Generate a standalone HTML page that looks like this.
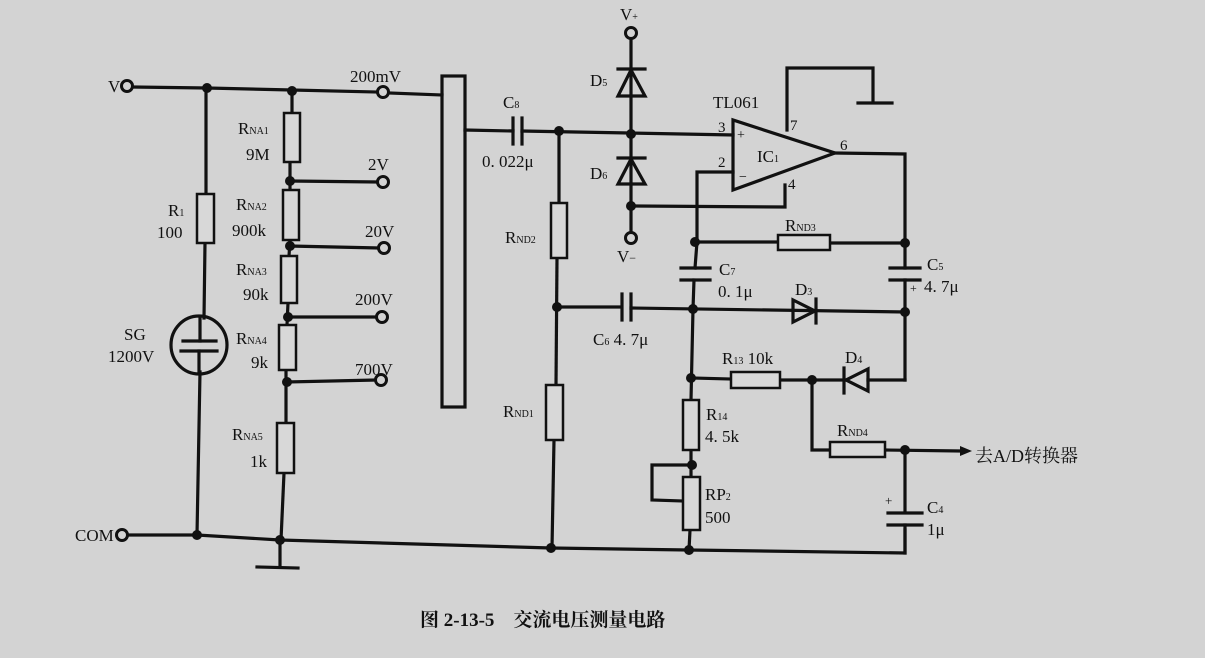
<!DOCTYPE html>
<html><head><meta charset="utf-8"><style>
html,body{margin:0;padding:0;background:#d3d3d3;}
svg{display:block}
text{font-family:"Liberation Serif","Noto Serif CJK SC",serif;fill:#111;}
</style></head><body>
<svg width="1205" height="658" viewBox="0 0 1205 658" xmlns="http://www.w3.org/2000/svg">
<rect width="1205" height="658" fill="#d3d3d3"/>
<g stroke="#111" stroke-width="3.2" fill="none" stroke-linecap="square">
<polyline points="133,87 207,88 292,90 377,92"/>
<line x1="389" y1="93" x2="442" y2="95"/>
<line x1="206" y1="88" x2="206" y2="195"/>
<line x1="205" y1="243" x2="204" y2="318"/>
<line x1="200" y1="372" x2="197" y2="535"/>
<ellipse cx="199" cy="345" rx="28" ry="29"/>
<line x1="200" y1="318" x2="200" y2="341"/>
<line x1="183" y1="341" x2="216" y2="341"/>
<line x1="181" y1="351" x2="217" y2="351"/>
<line x1="199" y1="351" x2="199" y2="372"/>
<line x1="292" y1="90" x2="292" y2="113"/>
<line x1="290" y1="162" x2="290" y2="190"/>
<line x1="290" y1="240" x2="289" y2="256"/>
<line x1="288" y1="303" x2="287" y2="325"/>
<line x1="286" y1="370" x2="286" y2="423"/>
<line x1="284" y1="473" x2="281" y2="540"/>
<line x1="290" y1="181" x2="377" y2="182"/>
<line x1="290" y1="246" x2="378" y2="248"/>
<line x1="288" y1="317" x2="376" y2="317"/>
<line x1="287" y1="382" x2="375" y2="380"/>
<line x1="280" y1="540" x2="280" y2="566"/>
<line x1="257" y1="567" x2="298" y2="568"/>
<polyline points="128,535 197,535 280,540 551,548 689,550 905,553 905,530"/>
<rect x="442" y="76" width="23" height="331"/>
<line x1="465" y1="130" x2="513" y2="131"/>
<line x1="513" y1="118" x2="513" y2="144"/>
<line x1="522" y1="118" x2="522" y2="144"/>
<line x1="522" y1="131" x2="733" y2="135"/>
<line x1="559" y1="131" x2="559" y2="203"/>
<line x1="557" y1="258" x2="556" y2="385"/>
<line x1="554" y1="440" x2="552" y2="548"/>
<line x1="556" y1="307" x2="621" y2="307"/>
<line x1="622" y1="294" x2="622" y2="320"/>
<line x1="631" y1="294" x2="631" y2="320"/>
<line x1="631" y1="308" x2="905" y2="312"/>
<line x1="631" y1="39" x2="631" y2="238"/>
<line x1="618" y1="69" x2="645" y2="69"/>
<polygon points="618,96 645,96 631,70"/>
<line x1="618" y1="158" x2="645" y2="158"/>
<polygon points="618,184 645,184 631,159"/>
<polyline points="631,206 785,207 785,185"/>
<polygon points="733,120 733,190 835,153"/>
<polyline points="787,130 787,68 873,68 873,102"/>
<line x1="858" y1="103" x2="892" y2="103"/>
<polyline points="733,172 697,172 697,242 695,268"/>
<line x1="681" y1="268" x2="710" y2="268"/>
<line x1="681" y1="280" x2="710" y2="280"/>
<polyline points="694,280 693,309 691,400"/>
<line x1="691" y1="450" x2="691" y2="477"/>
<line x1="690" y1="530" x2="689" y2="550"/>
<polyline points="835,153 905,154 905,268"/>
<line x1="697" y1="242" x2="778" y2="242"/>
<line x1="830" y1="243" x2="905" y2="243"/>
<line x1="890" y1="268" x2="920" y2="268"/>
<line x1="890" y1="280" x2="920" y2="280"/>
<line x1="905" y1="280" x2="905" y2="380"/>
<polygon points="793,300 793,322 815,311"/>
<line x1="816" y1="299" x2="816" y2="323"/>
<line x1="691" y1="378" x2="731" y2="379"/>
<line x1="780" y1="380" x2="845" y2="380"/>
<polygon points="868,369 868,391 846,380"/>
<line x1="844" y1="368" x2="844" y2="393"/>
<line x1="868" y1="380" x2="905" y2="380"/>
<polyline points="812,380 812,450 830,450"/>
<line x1="885" y1="450" x2="960" y2="451"/>
<line x1="905" y1="450" x2="905" y2="512"/>
<line x1="888" y1="513" x2="922" y2="513"/>
<line x1="888" y1="525" x2="922" y2="525"/>
<line x1="905" y1="525" x2="905" y2="553"/>
<polyline points="691,465 652,465 652,500 683,501"/>
</g>
<g stroke="#111" stroke-width="2.5" fill="#d8d8d8">
<rect x="197" y="194" width="17" height="49"/>
<rect x="284" y="113" width="16" height="49"/>
<rect x="283" y="190" width="16" height="50"/>
<rect x="281" y="256" width="16" height="47"/>
<rect x="279" y="325" width="17" height="45"/>
<rect x="277" y="423" width="17" height="50"/>
<rect x="551" y="203" width="16" height="55"/>
<rect x="546" y="385" width="17" height="55"/>
<rect x="778" y="235" width="52" height="15"/>
<rect x="731" y="372" width="49" height="16"/>
<rect x="683" y="400" width="16" height="50"/>
<rect x="683" y="477" width="17" height="53"/>
<rect x="830" y="442" width="55" height="15"/>
</g>
<g stroke="#111" stroke-width="3" fill="#d3d3d3">
<circle cx="127" cy="86" r="5.5"/>
<circle cx="383" cy="92" r="5.5"/>
<circle cx="383" cy="182" r="5.5"/>
<circle cx="384" cy="248" r="5.5"/>
<circle cx="382" cy="317" r="5.5"/>
<circle cx="381" cy="380" r="5.5"/>
<circle cx="122" cy="535" r="5.5"/>
<circle cx="631" cy="33" r="5.5"/>
<circle cx="631" cy="238" r="5.5"/>
</g>
<polygon points="960,446 972,451 960,456" fill="#111"/>
<g fill="#111">
<circle cx="207" cy="88" r="5"/><circle cx="292" cy="91" r="5"/>
<circle cx="290" cy="181" r="5"/><circle cx="290" cy="246" r="5"/>
<circle cx="288" cy="317" r="5"/><circle cx="287" cy="382" r="5"/>
<circle cx="197" cy="535" r="5"/><circle cx="280" cy="540" r="5"/>
<circle cx="559" cy="131" r="5"/><circle cx="631" cy="134" r="5"/>
<circle cx="631" cy="206" r="5"/><circle cx="557" cy="307" r="5"/>
<circle cx="551" cy="548" r="5"/><circle cx="695" cy="242" r="5"/>
<circle cx="905" cy="243" r="5"/><circle cx="693" cy="309" r="5"/>
<circle cx="905" cy="312" r="5"/><circle cx="691" cy="378" r="5"/>
<circle cx="812" cy="380" r="5"/><circle cx="692" cy="465" r="5"/>
<circle cx="689" cy="550" r="5"/><circle cx="905" cy="450" r="5"/>
</g>
<g font-size="17">
<text x="108" y="92">V</text>
<text x="350" y="82">200mV</text>
<text x="368" y="170">2V</text>
<text x="365" y="237">20V</text>
<text x="355" y="305">200V</text>
<text x="355" y="375">700V</text>
<text x="75" y="541">COM</text>
<text x="238" y="134">R<tspan font-size="10">NA1</tspan></text>
<text x="246" y="160">9M</text>
<text x="236" y="210">R<tspan font-size="10">NA2</tspan></text>
<text x="232" y="236">900k</text>
<text x="236" y="275">R<tspan font-size="10">NA3</tspan></text>
<text x="243" y="300">90k</text>
<text x="236" y="344">R<tspan font-size="10">NA4</tspan></text>
<text x="251" y="368">9k</text>
<text x="232" y="440">R<tspan font-size="10">NA5</tspan></text>
<text x="250" y="467">1k</text>
<text x="168" y="216">R<tspan font-size="10">1</tspan></text>
<text x="157" y="238">100</text>
<text x="124" y="340">SG</text>
<text x="108" y="362">1200V</text>
<text x="503" y="108">C<tspan font-size="10">8</tspan></text>
<text x="482" y="167">0. 022μ</text>
<text x="505" y="243">R<tspan font-size="10">ND2</tspan></text>
<text x="503" y="417">R<tspan font-size="10">ND1</tspan></text>
<text x="590" y="86">D<tspan font-size="10">5</tspan></text>
<text x="590" y="179">D<tspan font-size="10">6</tspan></text>
<text x="620" y="20">V<tspan font-size="10">+</tspan></text>
<text x="617" y="262">V<tspan font-size="12">−</tspan></text>
<text x="713" y="108">TL061</text>
<text x="718" y="132" font-size="15">3</text>
<text x="718" y="167" font-size="15">2</text>
<text x="737" y="139" font-size="14">+</text>
<text x="739" y="181" font-size="14">−</text>
<text x="757" y="162">IC<tspan font-size="10">1</tspan></text>
<text x="790" y="130" font-size="15">7</text>
<text x="788" y="189" font-size="15">4</text>
<text x="840" y="150" font-size="15">6</text>
<text x="785" y="231">R<tspan font-size="10">ND3</tspan></text>
<text x="719" y="275">C<tspan font-size="10">7</tspan></text>
<text x="718" y="297">0. 1μ</text>
<text x="927" y="270">C<tspan font-size="10">5</tspan></text>
<text x="924" y="292">4. 7μ</text>
<text x="910" y="292" font-size="12">+</text>
<text x="795" y="295">D<tspan font-size="10">3</tspan></text>
<text x="593" y="345">C<tspan font-size="10">6</tspan> 4. 7μ</text>
<text x="722" y="364">R<tspan font-size="10">13</tspan> 10k</text>
<text x="845" y="363">D<tspan font-size="10">4</tspan></text>
<text x="706" y="420">R<tspan font-size="10">14</tspan></text>
<text x="705" y="442">4. 5k</text>
<text x="705" y="500">RP<tspan font-size="10">2</tspan></text>
<text x="705" y="523">500</text>
<text x="837" y="436">R<tspan font-size="10">ND4</tspan></text>
<text x="927" y="513">C<tspan font-size="10">4</tspan></text>
<text x="927" y="535">1μ</text>
<text x="885" y="505" font-size="13">+</text>
<text x="975" y="462" font-size="18">去A/D转换器</text>
</g>
<text x="420" y="626" font-size="19" font-weight="bold">图 2-13-5　交流电压测量电路</text>
</svg>
</body></html>
